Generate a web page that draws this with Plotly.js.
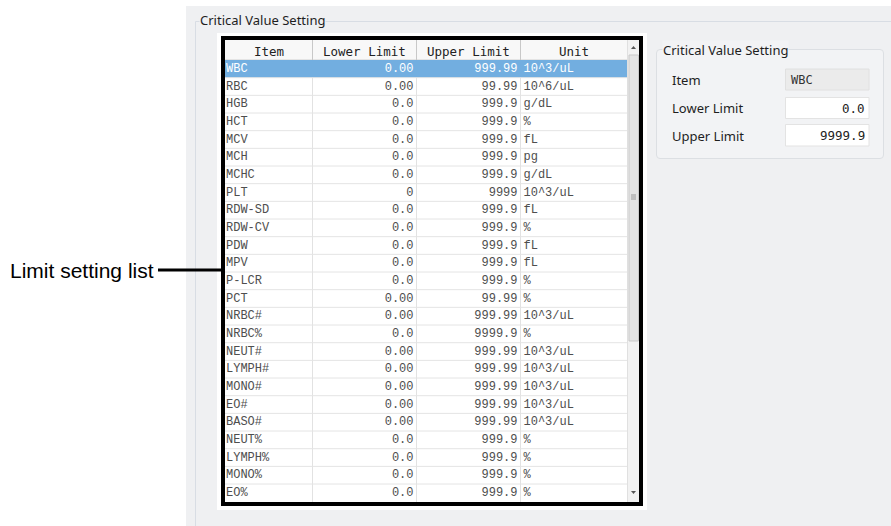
<!DOCTYPE html>
<html>
<head>
<meta charset="utf-8">
<script src="https://cdn.plot.ly/plotly-3.0.1.min.js"></script>
<style>html,body{margin:0;padding:0;background:#fff;}#chart{width:891px;height:526px;}</style>
</head>
<body>
<div id="chart"></div>
<script>
// ---- data ----
const items = ["WBC","RBC","HGB","HCT","MCV","MCH","MCHC","PLT","RDW-SD","RDW-CV","PDW","MPV","P-LCR","PCT","NRBC#","NRBC%","NEUT#","LYMPH#","MONO#","EO#","BASO#","NEUT%","LYMPH%","MONO%","EO%"];
const lowerLimits = ["0.00","0.00","0.0","0.0","0.0","0.0","0.0","0","0.0","0.0","0.0","0.0","0.0","0.00","0.00","0.0","0.00","0.00","0.00","0.00","0.00","0.0","0.0","0.0","0.0"];
const upperLimits = ["999.99","99.99","999.9","999.9","999.9","999.9","999.9","9999","999.9","999.9","999.9","999.9","999.9","99.99","999.99","9999.9","999.99","999.99","999.99","999.99","999.99","999.9","999.9","999.9","999.9"];
const units = ["10^3/uL","10^6/uL","g/dL","%","fL","pg","g/dL","10^3/uL","fL","%","fL","fL","%","%","10^3/uL","%","10^3/uL","10^3/uL","10^3/uL","10^3/uL","10^3/uL","%","%","%","%"];
const headers = ["Item","Lower Limit","Upper Limit","Unit"];
const selectedItem = "WBC";
const detailLabels = ["Item","Lower Limit","Upper Limit"];
const detailValues = ["WBC","0.0","9999.9"];
const groupTitle = "Critical Value Setting";
const calloutText = "Limit setting list";

// ---- layout helpers ----
const W = 891, H = 526;
const rowTop = 60, rowBottom = 501.7;
const colEdges = [225, 312.5, 416.5, 520.5, 627];
const cellFont = "Liberation Mono, DejaVu Sans Mono, monospace";
const textColor = "#4e4e4e";
const selIdx = items.indexOf(selectedItem);
const colors = items.map((_, i) => i === selIdx ? "#ffffff" : textColor);

function colTrace(xpos, vals, pos) {
  return {
    type: "scatter", mode: "text", xaxis: "x", yaxis: "y2",
    x: vals.map(() => xpos), y: items, text: vals,
    textposition: pos, hoverinfo: "skip", showlegend: false,
    textfont: {family: cellFont, size: 12, color: colors}
  };
}

const data = [
  colTrace(colEdges[0] + 1, items, "middle right"),
  colTrace(colEdges[2] - 3, lowerLimits, "middle left"),
  colTrace(colEdges[3] - 3, upperLimits, "middle left"),
  colTrace(colEdges[3] + 3, units, "middle right")
];

const shapes = [];
function rect(x0, y0, x1, y1, fill, line, lw, layer, yref) {
  shapes.push({type: "rect", xref: "x", yref: yref || "y", x0, y0, x1, y1,
    fillcolor: fill, line: {color: line || "rgba(0,0,0,0)", width: lw || 0}, layer: layer || "below"});
}
function seg(x0, y0, x1, y1, color, w, layer, yref) {
  shapes.push({type: "line", xref: "x", yref: yref || "y", x0, y0, x1, y1,
    line: {color, width: w}, layer: layer || "below"});
}
// gray window panel
rect(186, 6, W, H, "#eff0f2");
// left group box
seg(195.5, 21.5, 195.5, H, "#d8dde4", 1);
seg(195.5, 21.5, W, 21.5, "#d8dde4", 1);
// white margin + table body
rect(217, 33, 647, 510, "#ffffff");
// header
rect(225, 40, 627, 60, "#f8f8f8");
seg(225, 60, 627, 60, "#d0d0d0", 1);
// selected row highlight
rect(225, selIdx - 0.5, 627, selIdx + 0.5, "#72aee0", null, 0, "below", "y2");
// row separators
for (let i = 0; i < items.length - 1; i++) {
  seg(225, i + 0.5, 627, i + 0.5, "#e4e4e4", 1, "below", "y2");
}
// column separators
for (let k = 1; k < 4; k++) {
  seg(colEdges[k], 40, colEdges[k], 60, "#c8c8c8", 1);
  seg(colEdges[k], 60, colEdges[k], 502, "#e2e2e2", 1);
}
// scrollbar
rect(627, 40, 640, 502, "#f2f2f2");
seg(627.5, 40, 627.5, 502, "#e0e0e0", 1);
rect(629, 55, 638.5, 341, "#e4e4e4", "#c9c9c9", 1);
seg(631, 195, 636, 195, "#9a9a9a", 1);
seg(631, 197, 636, 197, "#9a9a9a", 1);
seg(631, 199, 636, 199, "#9a9a9a", 1);
shapes.push({type: "path", xref: "x", yref: "y", path: "M 631 49 L 636 49 L 633.5 46 Z", fillcolor: "#555", line: {width: 0}, layer: "below"});
shapes.push({type: "path", xref: "x", yref: "y", path: "M 631 491 L 636 491 L 633.5 494 Z", fillcolor: "#555", line: {width: 0}, layer: "below"});
// black highlight border
rect(223, 38, 641, 504, "rgba(0,0,0,0)", "#000000", 4, "above");
// callout line
seg(158, 270, 222, 270, "#000000", 3, "above");
// right group box
shapes.push({type: "path", xref: "x", yref: "y",
  path: "M 660 49.5 L 880 49.5 Q 883.5 49.5 883.5 53 L 883.5 155 Q 883.5 158.5 880 158.5 L 660 158.5 Q 656.5 158.5 656.5 155 L 656.5 53 Q 656.5 49.5 660 49.5 Z",
  fillcolor: "#f2f3f5", line: {color: "#dcdfe3", width: 1}, layer: "below"});
// detail fields
const fieldY = [[69, 90], [97.5, 118.5], [124.5, 146]];
rect(785.5, fieldY[0][0], 869, fieldY[0][1], "#ebebeb", "#e0e0e0", 1);
rect(785.5, fieldY[1][0], 869, fieldY[1][1], "#ffffff", "#e3e3e3", 1);
rect(785.5, fieldY[2][0], 869, fieldY[2][1], "#ffffff", "#e3e3e3", 1);

const annotations = [];
function ann(text, x, y, xanchor, font, bg) {
  annotations.push({text, x, y, xref: "x", yref: "y", xanchor, yanchor: "middle",
    showarrow: false, font, bgcolor: bg || "rgba(0,0,0,0)", borderpad: 0});
}
const uiFont = {family: "Noto Sans, Open Sans, sans-serif", size: 13, color: "#1e1e1e"};
ann(groupTitle, 199, 20, "left", uiFont, "#eff0f2");
ann(groupTitle, 662, 49.5, "left", uiFont, "#f2f3f5");
// headers
const hdrFont = {family: "DejaVu Sans Mono, monospace", size: 12.5, color: "#222"};
for (let k = 0; k < 4; k++) {
  ann(headers[k], (colEdges[k] + colEdges[k + 1]) / 2, 51, "center", hdrFont);
}
// detail labels and values
const labelY = [80, 108, 135.5];
const valFont = {family: "DejaVu Sans Mono, monospace", size: 12.5, color: "#222"};
for (let i = 0; i < 3; i++) {
  ann(detailLabels[i], 671, labelY[i], "left", uiFont);
  const fy = (fieldY[i][0] + fieldY[i][1]) / 2;
  if (i === 0) ann(detailValues[i], 790, fy, "left", {family: valFont.family, size: 12, color: "#333"});
  else ann(detailValues[i], 866, fy, "right", valFont);
}
// callout text
ann(calloutText, 9, 270, "left", {family: "Liberation Sans, Arial, sans-serif", size: 21, color: "#000"});

const layout = {
  width: W, height: H, margin: {l: 0, r: 0, t: 0, b: 0},
  paper_bgcolor: "#ffffff", plot_bgcolor: "rgba(0,0,0,0)",
  showlegend: false,
  xaxis: {range: [0, W], visible: false, fixedrange: true, domain: [0, 1]},
  yaxis: {range: [H, 0], visible: false, fixedrange: true, domain: [0, 1]},
  yaxis2: {type: "category", categoryarray: items, categoryorder: "array",
    range: [items.length - 0.5, -0.5], visible: false, fixedrange: true,
    anchor: "x", domain: [1 - rowBottom / H, 1 - rowTop / H]},
  shapes, annotations
};
Plotly.newPlot("chart", data, layout, {staticPlot: true, displayModeBar: false});
</script>
</body>
</html>
